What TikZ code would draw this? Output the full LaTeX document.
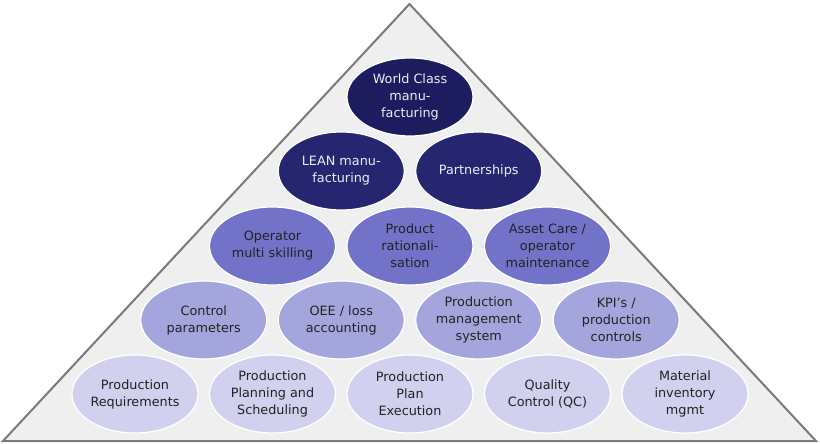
\documentclass[tikz,border=0pt]{standalone}
\usepackage{fontspec}
\setmainfont{DejaVu Sans}
\usetikzlibrary{shapes.geometric}
\definecolor{tri}{HTML}{EFEFEF}
\definecolor{triedge}{HTML}{7A7A7A}
\definecolor{lvA}{HTML}{1C1C5E}
\definecolor{lvB}{HTML}{262670}
\definecolor{lvC}{HTML}{7272C9}
\definecolor{lvD}{HTML}{A5A5DD}
\definecolor{lvE}{HTML}{D1D1EF}
\definecolor{txtdark}{HTML}{222222}
\definecolor{txtlight}{HTML}{EDEDF5}
\tikzset{
  blob/.style={ellipse, draw=white, line width=1.2pt, minimum width=126pt, minimum height=78pt,
    inner sep=0pt, align=center, font=\fontsize{12.8}{17}\selectfont},
  lvlA/.style={blob, fill=lvA, text=txtlight},
  lvlB/.style={blob, fill=lvB, text=txtlight},
  lvlC/.style={blob, fill=lvC, text=txtdark},
  lvlD/.style={blob, fill=lvD, text=txtdark},
  lvlE/.style={blob, fill=lvE, text=txtdark},
}
\begin{document}
\begin{tikzpicture}[x=1pt,y=-1pt]
\useasboundingbox (0,0) rectangle (820,444);
\fill[white] (0,0) rectangle (820,444);
\coordinate (apex) at (409.5,4);
\coordinate (bl) at (3,441);
\coordinate (br) at (816,441);
\draw[triedge, fill=tri, line width=2pt, line join=miter] (bl) -- (apex) -- (br) -- cycle;

\node[lvlA] (wcm) at (410,97) {World Class\\manu-\\facturing};

\node[lvlB] (lean) at (341.25,171) {LEAN manu-\\facturing};
\node[lvlB] (part) at (478.75,171) {Partnerships};

\node[lvlC] (oms) at (272.5,246) {Operator\\multi skilling};
\node[lvlC] (prat) at (410,246) {Product\\rationali-\\sation};
\node[lvlC] (asset) at (547.5,246) {Asset Care /\\operator\\maintenance};

\node[lvlD] (ctrl) at (203.75,320) {Control\\parameters};
\node[lvlD] (oee) at (341.25,320) {OEE / loss\\accounting};
\node[lvlD] (pms) at (478.75,320) {Production\\management\\system};
\node[lvlD] (kpi) at (616.25,320) {KPI’s /\\production\\controls};

\node[lvlE] (preq) at (135,394) {Production\\Requirements};
\node[lvlE] (pps) at (272.5,394) {Production\\Planning and\\Scheduling};
\node[lvlE] (ppe) at (410,394) {Production\\Plan\\Execution};
\node[lvlE] (qc) at (547.5,394) {Quality\\Control (QC)};
\node[lvlE] (mim) at (685,394) {Material\\inventory\\mgmt};
\end{tikzpicture}
\end{document}
